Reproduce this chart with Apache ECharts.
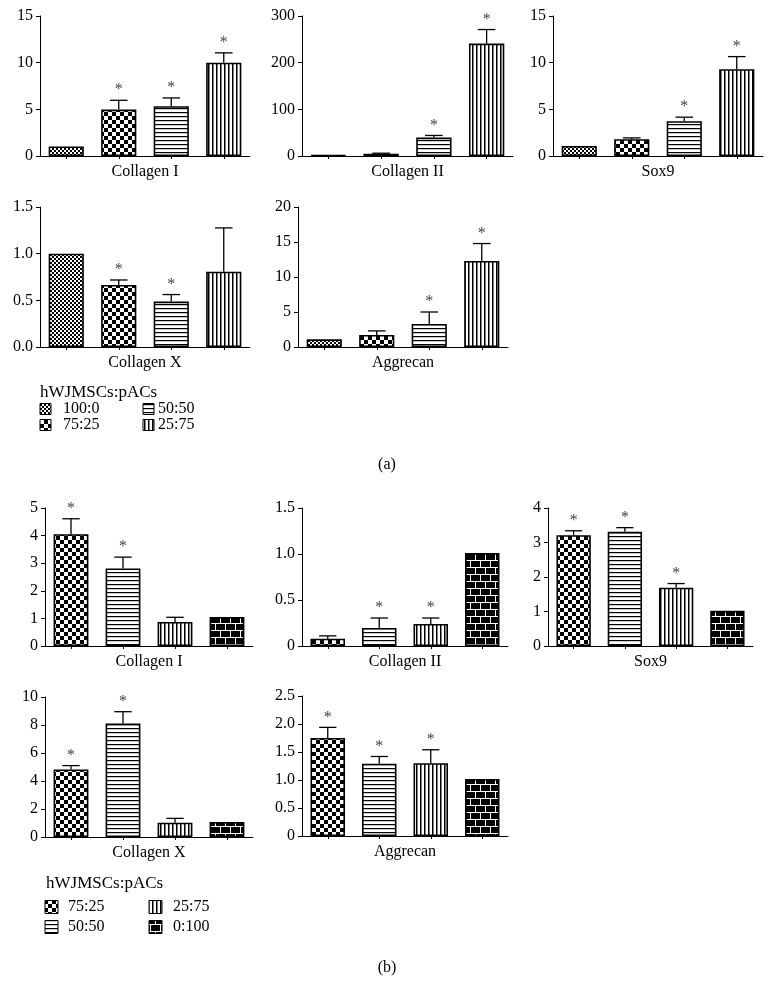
<!DOCTYPE html>
<html><head><meta charset="utf-8">
<script src="https://cdn.jsdelivr.net/npm/echarts@6/dist/echarts.min.js"></script>
<style>html,body{margin:0;padding:0;background:#fff}#c{width:775px;height:992px}</style>
</head><body><div id="c"></div>
<script>
// ---------- DATA ----------
const groupsA = ['100:0', '75:25', '50:50', '25:75'];
const groupsB = ['75:25', '50:50', '25:75', '0:100'];
const legendTitle = 'hWJMSCs:pACs';
const panelLabels = ['(a)', '(b)'];
const genes = ['Collagen I', 'Collagen II', 'Sox9', 'Collagen X', 'Aggrecan'];

// Panel (a)
const aColI_mean = [1.02, 4.97, 5.33, 10.0];
const aColI_err  = [null, 5.97, 6.22, 11.05];
const aColI_sig  = [0, 1, 1, 1];
const aColI_ticks = ['0', '5', '10', '15'];

const aColII_mean = [1.5, 5, 39.5, 241];
const aColII_err  = [null, 6, 44, 271];
const aColII_sig  = [0, 0, 1, 1];
const aColII_ticks = ['0', '100', '200', '300'];

const aSox9_mean = [1.08, 1.8, 3.73, 9.3];
const aSox9_err  = [null, 1.94, 4.16, 10.65];
const aSox9_sig  = [0, 0, 1, 1];
const aSox9_ticks = ['0', '5', '10', '15'];

const aColX_mean = [1.0, 0.665, 0.487, 0.807];
const aColX_err  = [null, 0.718, 0.562, 1.276];
const aColX_sig  = [0, 1, 1, 0];
const aColX_ticks = ['0.0', '0.5', '1.0', '1.5'];

const aAgg_mean = [1.1, 1.72, 3.3, 12.3];
const aAgg_err  = [null, 2.3, 5.0, 14.78];
const aAgg_sig  = [0, 0, 1, 1];
const aAgg_ticks = ['0', '5', '10', '15', '20'];

// Panel (b)
const bColI_mean = [4.05, 2.81, 0.87, 1.05];
const bColI_err  = [4.61, 3.22, 1.04, null];
const bColI_sig  = [1, 1, 0, 0];
const bColI_ticks = ['0', '1', '2', '3', '4', '5'];

const bColII_mean = [0.08, 0.196, 0.24, 1.01];
const bColII_err  = [0.11, 0.304, 0.304, null];
const bColII_sig  = [0, 1, 1, 0];
const bColII_ticks = ['0', '0.5', '1.0', '1.5'];

const bSox9_mean = [3.21, 3.31, 1.69, 1.02];
const bSox9_err  = [3.34, 3.43, 1.81, null];
const bSox9_sig  = [1, 1, 1, 0];
const bSox9_ticks = ['0', '1', '2', '3', '4'];

const bColX_mean = [4.83, 8.1, 1.02, 1.07];
const bColX_err  = [5.1, 8.95, 1.33, null];
const bColX_sig  = [1, 1, 0, 0];
const bColX_ticks = ['0', '2', '4', '6', '8', '10'];

const bAgg_mean = [1.75, 1.29, 1.30, 1.02];
const bAgg_err  = [1.94, 1.42, 1.54, null];
const bAgg_sig  = [1, 1, 1, 0];
const bAgg_ticks = ['0', '0.5', '1.0', '1.5', '2.0', '2.5'];

// ---------- PATTERNS ----------
function mk(w, h, draw) {
  const c = document.createElement('canvas');
  c.width = w; c.height = h;
  const g = c.getContext('2d');
  g.fillStyle = '#fff'; g.fillRect(0, 0, w, h);
  g.fillStyle = '#000';
  draw(g);
  return { image: c, repeat: 'repeat' };
}
const patterns = {
  '100:0': mk(4, 4, g => { g.fillRect(0, 0, 2, 2); g.fillRect(2, 2, 2, 2); }),
  '75:25': mk(8, 8, g => { g.fillRect(0, 0, 4, 4); g.fillRect(4, 4, 4, 4); }),
  '50:50': mk(4, 4, g => { g.fillRect(0, 0, 4, 1.2); }),
  '25:75': mk(4, 4, g => { g.fillRect(0, 0, 1.5, 4); }),
  '0:100': mk(10, 14, g => {
    g.fillRect(0, 0, 10, 14);
    g.fillStyle = '#fff';
    g.fillRect(0, 0, 10, 1); g.fillRect(0, 7, 10, 1);
    g.fillRect(0, 0, 1, 7); g.fillRect(5, 7, 1, 7);
  })
};

// ---------- LAYOUT ----------
const FONT = '"Liberation Serif", "DejaVu Serif", serif';
const charts = [
  { gene: genes[0], groups: groupsA, mean: aColI_mean, err: aColI_err, sig: aColI_sig, ticks: aColI_ticks, max: 15, step: 5, box: [40, 16, 210, 140] },
  { gene: genes[1], groups: groupsA, mean: aColII_mean, err: aColII_err, sig: aColII_sig, ticks: aColII_ticks, max: 300, step: 100, box: [302, 16, 211, 140] },
  { gene: genes[2], groups: groupsA, mean: aSox9_mean, err: aSox9_err, sig: aSox9_sig, ticks: aSox9_ticks, max: 15, step: 5, box: [553, 16, 210, 140] },
  { gene: genes[3], groups: groupsA, mean: aColX_mean, err: aColX_err, sig: aColX_sig, ticks: aColX_ticks, max: 1.5, step: 0.5, box: [40, 207, 210, 140] },
  { gene: genes[4], groups: groupsA, mean: aAgg_mean, err: aAgg_err, sig: aAgg_sig, ticks: aAgg_ticks, max: 20, step: 5, box: [298, 207, 210, 140] },
  { gene: genes[0], groups: groupsB, mean: bColI_mean, err: bColI_err, sig: bColI_sig, ticks: bColI_ticks, max: 5, step: 1, box: [45, 508, 208, 138] },
  { gene: genes[1], groups: groupsB, mean: bColII_mean, err: bColII_err, sig: bColII_sig, ticks: bColII_ticks, max: 1.5, step: 0.5, box: [302, 508, 206, 138] },
  { gene: genes[2], groups: groupsB, mean: bSox9_mean, err: bSox9_err, sig: bSox9_sig, ticks: bSox9_ticks, max: 4, step: 1, box: [548, 508, 205, 138] },
  { gene: genes[3], groups: groupsB, mean: bColX_mean, err: bColX_err, sig: bColX_sig, ticks: bColX_ticks, max: 10, step: 2, box: [45, 697, 208, 140] },
  { gene: genes[4], groups: groupsB, mean: bAgg_mean, err: bAgg_err, sig: bAgg_sig, ticks: bAgg_ticks, max: 2.5, step: 0.5, box: [302, 696, 206, 140] }
];

const option = { animation: false, backgroundColor: '#fff', grid: [], xAxis: [], yAxis: [], series: [], graphic: [] };

charts.forEach((c, i) => {
  option.grid.push({ left: c.box[0], top: c.box[1], width: c.box[2], height: c.box[3], containLabel: false, outerBoundsMode: 'none' });
  option.xAxis.push({
    type: 'category', gridIndex: i, data: c.groups,
    axisLine: { show: true, lineStyle: { color: '#000', width: 1 } },
    axisTick: { show: true, alignWithLabel: true, length: 3, lineStyle: { color: '#000', width: 1 } },
    axisLabel: { show: false },
    splitLine: { show: false },
    name: c.gene, nameLocation: 'middle', nameGap: 8,
    nameTextStyle: { fontFamily: FONT, fontSize: 16, color: '#000', verticalAlign: 'top' }
  });
  option.yAxis.push({
    type: 'value', gridIndex: i, min: 0, max: c.max, interval: c.step,
    axisLine: { show: true, lineStyle: { color: '#000', width: 1 } },
    axisTick: { show: true, inside: false, length: 4, lineStyle: { color: '#000', width: 1 } },
    splitLine: { show: false },
    axisLabel: {
      margin: 7, fontFamily: FONT, fontSize: 16, color: '#000',
      formatter: (v) => c.ticks[Math.round(v / c.step)]
    }
  });
  option.series.push({
    type: 'bar', xAxisIndex: i, yAxisIndex: i, barWidth: '67%', silent: true,
    itemStyle: { borderColor: '#000', borderWidth: 1.6 },
    data: c.mean.map((v, k) => ({ value: v, itemStyle: { color: patterns[c.groups[k]] } }))
  });
  option.series.push({
    type: 'custom', xAxisIndex: i, yAxisIndex: i, silent: true, z: 5,
    encode: { x: 0, y: [1, 2] },
    data: c.mean.map((v, k) => [k, v, c.err[k] == null ? v : c.err[k], c.sig[k]]),
    renderItem: (params, api) => {
      const x = api.value(0), m = api.value(1), e = api.value(2), s = api.value(3);
      const p0 = api.coord([x, m]), p1 = api.coord([x, e]);
      const cap = api.size([1, 0])[0] * 0.67 * 0.5;
      const ch = [];
      if (e > m) {
        ch.push({ type: 'line', shape: { x1: p0[0], y1: p0[1], x2: p1[0], y2: p1[1] }, style: { stroke: '#000', lineWidth: 1.3 } });
        ch.push({ type: 'line', shape: { x1: p1[0] - cap / 2, y1: p1[1], x2: p1[0] + cap / 2, y2: p1[1] }, style: { stroke: '#000', lineWidth: 1.3 } });
      }
      if (s) {
        ch.push({ type: 'text', x: p1[0], y: p1[1] - 10, style: { text: '*', fill: '#444', font: '16px ' + FONT, align: 'center', verticalAlign: 'middle', textAlign: 'center', textVerticalAlign: 'middle' } });
      }
      return { type: 'group', children: ch };
    }
  });
});

// ---------- LEGENDS & PANEL LABELS ----------
function legend(groups, title, tx, ty, cols, rows, sz) {
  option.graphic.push({ type: 'text', left: tx, top: ty - 10, style: { text: title, font: '17px ' + FONT, fill: '#000' } });
  groups.forEach((g, k) => {
    const col = Math.floor(k / 2), row = k % 2;
    const cx = cols[col], cy = rows[row];
    option.graphic.push({ type: 'rect', shape: { x: cx[0], y: cy - sz / 2, width: sz, height: sz }, style: { fill: patterns[g], stroke: '#000', lineWidth: 1 } });
    option.graphic.push({ type: 'text', x: cx[1], y: cy, style: { text: g, font: '16px ' + FONT, fill: '#000', verticalAlign: 'middle', textVerticalAlign: 'middle' } });
  });
}
legend(groupsA, legendTitle, 40, 394, [[40, 63], [143, 158]], [409, 425], 11);
legend(groupsB, legendTitle, 46, 885, [[45, 68], [149, 173]], [907, 927], 13);

option.graphic.push({ type: 'text', x: 387, y: 465, style: { text: panelLabels[0], font: '16px ' + FONT, fill: '#000', align: 'center', verticalAlign: 'middle', textAlign: 'center', textVerticalAlign: 'middle' } });
option.graphic.push({ type: 'text', x: 387, y: 968, style: { text: panelLabels[1], font: '16px ' + FONT, fill: '#000', align: 'center', verticalAlign: 'middle', textAlign: 'center', textVerticalAlign: 'middle' } });

const chart = echarts.init(document.getElementById('c'), null, { renderer: 'canvas' });
chart.setOption(option);
</script>
</body></html>
